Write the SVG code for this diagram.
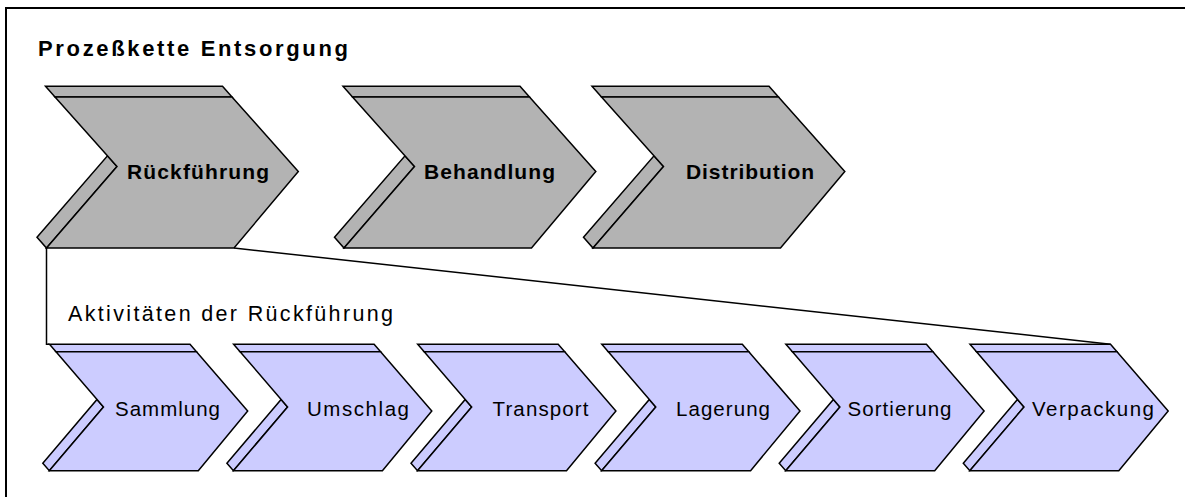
<svg xmlns="http://www.w3.org/2000/svg" xmlns:xlink="http://www.w3.org/1999/xlink" width="1185" height="497" viewBox="0 0 1185 497">
  <style>
    .frame { fill: none; stroke: #000; stroke-width: 2; }
    .edge { fill: none; stroke: #000; stroke-width: 1.5; }
    .top { fill: #B3B3B3; stroke: #000; stroke-width: 1.5; stroke-linejoin: miter; }
    .sub { fill: #CCCCFF; stroke: #000; stroke-width: 1.5; stroke-linejoin: miter; }
    text { font-family: "Liberation Sans", Arial, sans-serif; fill: #000; }
    .title { font-weight: bold; font-size: 22px; }
    .label-top { font-weight: bold; font-size: 21px; text-anchor: middle; }
    .label-sub { font-size: 20.5px; text-anchor: middle; }
    .caption { font-size: 21.5px; }
  </style>
  <defs>
    <!-- process step: extruded chevron (top strip, lower-left strip, front face) -->
    <g id="stepTop" class="top">
      <polygon points="45.5,86.3 222.5,86.3 232,97 55,97"/>
      <polygon points="107.5,155.8 117,166.5 46.5,248 37,237.3"/>
      <polygon points="55,97 232,97 298.3,171.5 234,248 46.5,248 117,166.5"/>
    </g>
    <!-- activity: smaller chevron, same construction -->
    <g id="stepSub" class="sub">
      <polygon points="49.5,344.2 190,344.2 196.5,351.7 56,351.7"/>
      <polygon points="97,399.5 103.5,407 49.3,470.7 42.8,463.2"/>
      <polygon points="56,351.7 196.5,351.7 247.7,411 198.3,470.7 49.3,470.7 103.5,407"/>
    </g>
  </defs>

  <rect width="1185" height="497" fill="#fff"/>

  <!-- frame (top and left edge) -->
  <path class="frame" d="M6,497 L6,8 L1185,8"/>

  <text class="title" x="38" y="56" textLength="310">Prozeßkette Entsorgung</text>

  <!-- connectors from "Rückführung" to its activity chain -->
  <g id="connectors">
    <path class="edge" d="M46.5,248 L46.5,344.2 L49.5,344.2"/>
    <path class="edge" d="M234,248 L1110.5,344.2"/>
  </g>

  <text class="caption" x="68" y="321" textLength="325">Aktivitäten der Rückführung</text>

  <!-- process chain -->
  <g id="node-rueckfuehrung">
    <use xlink:href="#stepTop"/>
    <text class="label-top" x="198" y="178.5" textLength="142">Rückführung</text>
  </g>
  <g id="node-behandlung">
    <use xlink:href="#stepTop" transform="translate(297.5,0)"/>
    <text class="label-top" x="489.5" y="178.5" textLength="131">Behandlung</text>
  </g>
  <g id="node-distribution">
    <use xlink:href="#stepTop" transform="translate(546.5,0)"/>
    <text class="label-top" x="750" y="178.5" textLength="128">Distribution</text>
  </g>

  <!-- activities -->
  <g id="node-sammlung">
    <use xlink:href="#stepSub"/>
    <text class="label-sub" x="167.5" y="416" textLength="105">Sammlung</text>
  </g>
  <g id="node-umschlag">
    <use xlink:href="#stepSub" transform="translate(184.1,0)"/>
    <text class="label-sub" x="358" y="416" textLength="102">Umschlag</text>
  </g>
  <g id="node-transport">
    <use xlink:href="#stepSub" transform="translate(368.2,0)"/>
    <text class="label-sub" x="540.5" y="416" textLength="96">Transport</text>
  </g>
  <g id="node-lagerung">
    <use xlink:href="#stepSub" transform="translate(552.3,0)"/>
    <text class="label-sub" x="723" y="416" textLength="94">Lagerung</text>
  </g>
  <g id="node-sortierung">
    <use xlink:href="#stepSub" transform="translate(736.4,0)"/>
    <text class="label-sub" x="899.5" y="416" textLength="104">Sortierung</text>
  </g>
  <g id="node-verpackung">
    <use xlink:href="#stepSub" transform="translate(920.5,0)"/>
    <text class="label-sub" x="1093" y="416" textLength="122">Verpackung</text>
  </g>
</svg>
